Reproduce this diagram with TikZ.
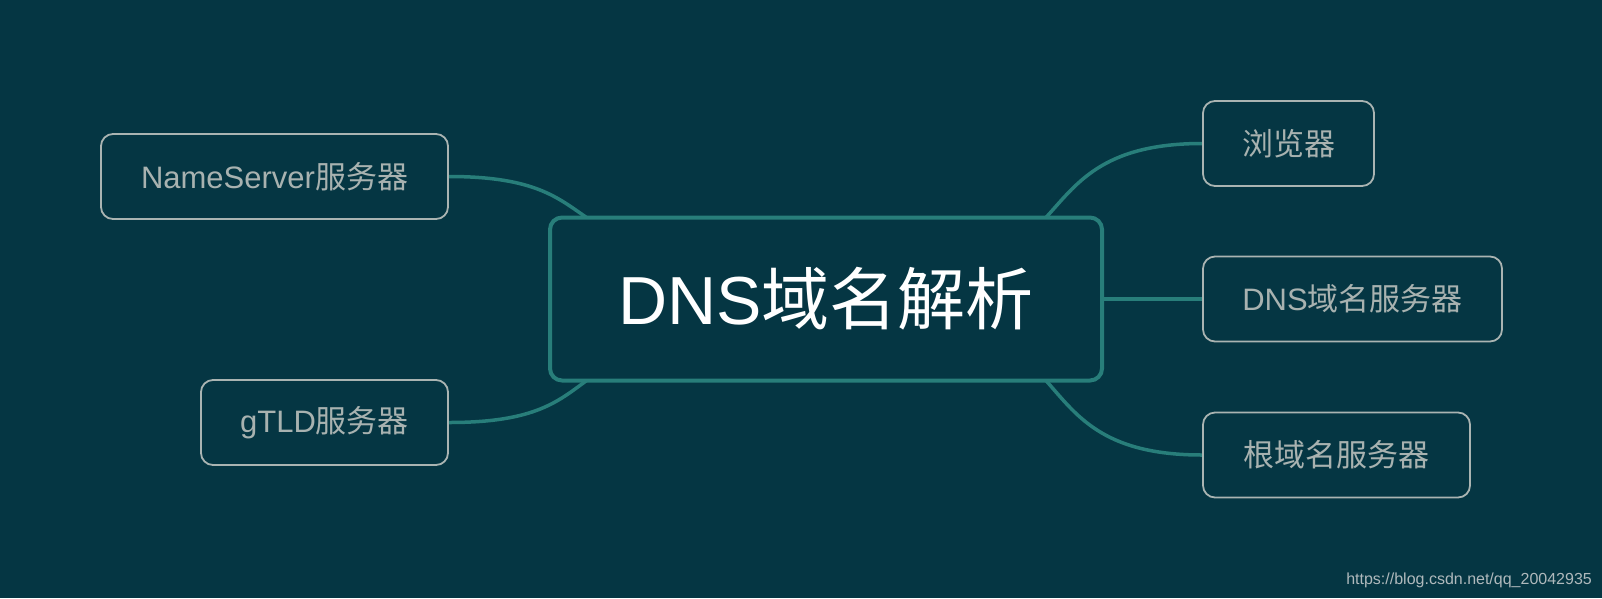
\documentclass[tikz,border=0pt]{standalone}
\usepackage{fontspec}
\setmainfont{Liberation Sans}
\newfontfamily\cjk{Noto Sans CJK SC}
\usetikzlibrary{backgrounds,calc}
\definecolor{bg}{RGB}{5,54,67}
\definecolor{tealc}{RGB}{40,126,122}
\definecolor{greyline}{RGB}{170,180,178}
\definecolor{greytext}{RGB}{168,178,176}
\definecolor{wmtext}{RGB}{175,185,188}
\begin{document}
\begin{tikzpicture}[x=1pt,y=-1pt,
  conn/.style={draw=tealc,line width=3.5pt},
  leaf/.style={draw=greyline,line width=1.8pt,rounded corners=12pt,fill=bg,text=greytext,inner sep=0pt,minimum height=85pt,font=\fontsize{31}{36}\selectfont},
  hub/.style={draw=tealc,line width=4pt,rounded corners=12pt,fill=bg,text=white,inner sep=0pt,font=\fontsize{68}{80}\selectfont}]
\useasboundingbox (0,0) rectangle (1602,598);
\node[hub,minimum width=552pt,minimum height=163pt] (c) at (826,299) {DNS{\cjk 域名解析}};
\node[leaf,minimum width=347pt] (ns) at (274.5,176.5) {NameServer{\cjk 服务器}};
\node[leaf,minimum width=247pt] (gt) at (324.5,422.5) {gTLD{\cjk 服务器}};
\node[leaf,minimum width=171pt] (br) at (1288.5,143.5) {{\cjk 浏览器}};
\node[leaf,minimum width=299pt] (dn) at (1352.5,299) {DNS{\cjk 域名服务器}};
\node[leaf,minimum width=267pt] (rt) at (1336.5,455) {{\cjk 根域名服务器}};
\node[anchor=base east,inner sep=0pt,text=wmtext,font=\fontsize{16}{19}\selectfont] (wm) at (1592,584) {https://blog.csdn.net/qq\_20042935};
\begin{pgfonlayer}{background}
\fill[bg] (0,0) rectangle (1602,598);
\draw[conn] (ns.east) .. controls (536,176.5) and (558.5,198.5) .. ($(c.north west)+(40,3)$);
\draw[conn] (gt.east) .. controls (536,422.5) and (558.5,401) .. ($(c.south west)+(40,-3)$);
\draw[conn] (br.west) .. controls (1101,143.5) and (1076,185) .. ($(c.north east)+(-59,3)$);
\draw[conn] (rt.west) .. controls (1101,455) and (1076,414) .. ($(c.south east)+(-59,-3)$);
\draw[conn] (c.east) -- (dn.west);
\end{pgfonlayer}
\end{tikzpicture}
\end{document}
